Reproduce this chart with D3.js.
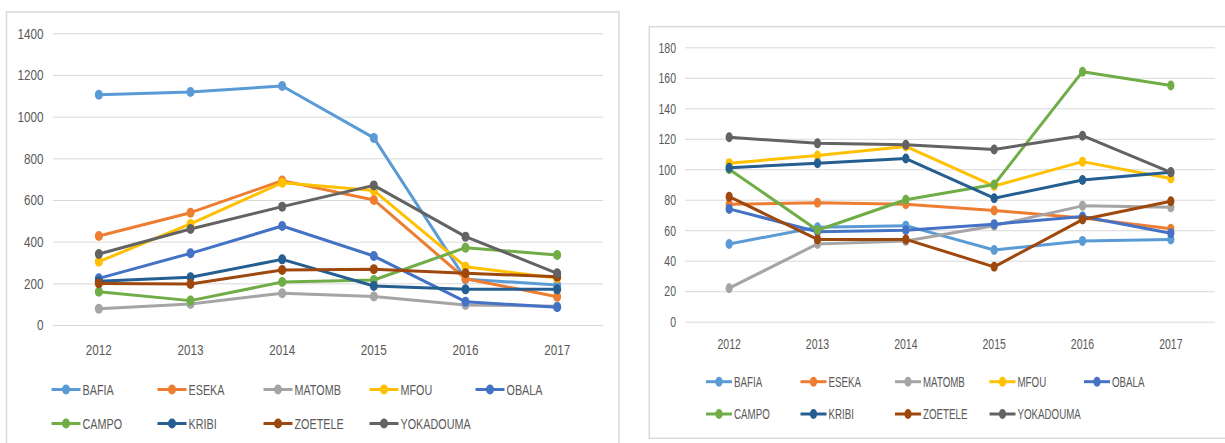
<!DOCTYPE html>
<html>
<head>
<meta charset="utf-8">
<script src="https://cdn.jsdelivr.net/npm/d3@7"></script>
<style>
  html, body { margin: 0; padding: 0; background: #ffffff; }
  svg { display: block; }
  text { font-family: "Liberation Sans", Arial, sans-serif; fill: #595959; }
</style>
</head>
<body>
<svg id="chart" width="1225" height="443"></svg>
<script>
// ---------- DATA ----------
const years = ["2012", "2013", "2014", "2015", "2016", "2017"];
const communes = ["BAFIA", "ESEKA", "MATOMB", "MFOU", "OBALA", "CAMPO", "KRIBI", "ZOETELE", "YOKADOUMA"];
const colors = ["#5B9BD5", "#ED7D31", "#A5A5A5", "#FFC000", "#4472C4", "#70AD47", "#255E91", "#9E480E", "#636363"];

// Left chart values
const leftBafia     = [1105, 1118, 1147, 898, 220, 192];
const leftEseka     = [427, 539, 693, 600, 222, 136];
const leftMatomb    = [78, 101, 152, 137, 96, 90];
const leftMfou      = [304, 485, 683, 645, 280, 225];
const leftObala     = [224, 344, 475, 331, 112, 85];
const leftCampo     = [160, 117, 206, 216, 371, 336];
const leftKribi     = [210, 229, 315, 187, 171, 171];
const leftZoetele   = [199, 197, 264, 268, 248, 232];
const leftYokadouma = [341, 461, 568, 670, 424, 248];
const leftTicks = [0, 200, 400, 600, 800, 1000, 1200, 1400];

// Right chart values
const rightBafia     = [51, 62, 63, 47, 53, 54];
const rightEseka     = [77, 78, 77, 73, 68, 61];
const rightMatomb    = [22, 51, 53, 63, 76, 75];
const rightMfou      = [104, 109, 115, 89, 105, 94];
const rightObala     = [74, 59, 60, 64, 69, 58];
const rightCampo     = [100, 60, 80, 90, 164, 155];
const rightKribi     = [101, 104, 107, 81, 93, 98];
const rightZoetele   = [82, 54, 54, 36, 67, 79];
const rightYokadouma = [121, 117, 116, 113, 122, 98];
const rightTicks = [0, 20, 40, 60, 80, 100, 120, 140, 160, 180];

const leftSeries  = [leftBafia, leftEseka, leftMatomb, leftMfou, leftObala, leftCampo, leftKribi, leftZoetele, leftYokadouma];
const rightSeries = [rightBafia, rightEseka, rightMatomb, rightMfou, rightObala, rightCampo, rightKribi, rightZoetele, rightYokadouma];

// ---------- DRAW ----------
const svg = d3.select("#chart");

function label(g, x, y, str, anchor, size, sx) {
  g.append("text")
    .attr("transform", `translate(${x},${y}) scale(${sx},1)`)
    .attr("text-anchor", anchor)
    .attr("dy", "0.35em")
    .attr("font-size", size)
    .text(str);
}

function drawChart(cfg, seriesVals, ticks) {
  const g = svg.append("g");
  g.append("rect")
    .attr("x", cfg.frame[0]).attr("y", cfg.frame[1])
    .attr("width", cfg.frame[2] - cfg.frame[0]).attr("height", cfg.frame[3] - cfg.frame[1])
    .attr("fill", "#fff").attr("stroke", "#d9d9d9").attr("stroke-width", 1.5);

  const x = d3.scalePoint().domain(years).range([cfg.plotX[0], cfg.plotX[1]]).padding(0.5);
  const y = d3.scaleLinear().domain([0, ticks[ticks.length - 1]]).range([cfg.plotY[0], cfg.plotY[1]]);

  // gridlines via axis
  const yAxis = d3.axisLeft(y).tickValues(ticks).tickSize(-(cfg.plotX[1] - cfg.plotX[0])).tickFormat("");
  const ya = g.append("g").attr("transform", `translate(${cfg.plotX[0]},0)`).call(yAxis);
  ya.select(".domain").remove();
  ya.selectAll(".tick line").attr("stroke", "#d9d9d9").attr("stroke-width", 1);

  // y labels
  ticks.forEach(t => label(g, cfg.yLabelX, y(t), String(t), "end", cfg.fontSize, cfg.numScale));
  // x labels
  years.forEach(yr => label(g, x(yr), cfg.xLabelY, yr, "middle", cfg.fontSize, cfg.numScale));

  const line = d3.line().x((d, i) => x(years[i])).y(d => y(d));

  seriesVals.forEach((vals, si) => {
    const sg = g.append("g");
    sg.append("path").datum(vals).attr("d", line)
      .attr("fill", "none").attr("stroke", colors[si]).attr("stroke-width", 3)
      .attr("stroke-linejoin", "round");
    sg.selectAll("ellipse").data(vals).join("ellipse")
      .attr("cx", (d, i) => x(years[i])).attr("cy", d => y(d))
      .attr("rx", cfg.mrx).attr("ry", 5).attr("fill", colors[si]);
  });

  // legend
  communes.forEach((name, i) => {
    const row = i < 5 ? 0 : 1;
    const col = i < 5 ? i : i - 5;
    const lx = cfg.legX + col * cfg.legStep;
    const ly = cfg.legY[row];
    const lg = g.append("g");
    lg.append("line").attr("x1", lx).attr("x2", lx + cfg.legLine).attr("y1", ly).attr("y2", ly)
      .attr("stroke", colors[i]).attr("stroke-width", 3);
    lg.append("ellipse").attr("cx", lx + cfg.legLine / 2).attr("cy", ly).attr("rx", cfg.mrx).attr("ry", 5)
      .attr("fill", colors[i]);
    label(lg, lx + cfg.legLine + 2, ly, name, "start", cfg.fontSize, cfg.legScale);
  });
}

drawChart({
  frame: [6.5, 12, 619, 460],
  plotX: [53, 603],
  plotY: [325, 33.3],
  yLabelX: 43.5,
  xLabelY: 349.5,
  fontSize: 15,
  numScale: 0.78,
  legScale: 0.72,
  mrx: 4,
  legX: 51.5, legStep: 106, legLine: 29, legY: [389.5, 423.5]
}, leftSeries, leftTicks);

drawChart({
  frame: [649.3, 26.7, 1240, 438.3],
  plotX: [685, 1215],
  plotY: [321.7, 47.3],
  yLabelX: 676,
  xLabelY: 344,
  fontSize: 15,
  numScale: 0.70,
  legScale: 0.65,
  mrx: 3.6,
  legX: 706, legStep: 94.5, legLine: 26, legY: [381.7, 414]
}, rightSeries, rightTicks);
</script>
</body>
</html>
